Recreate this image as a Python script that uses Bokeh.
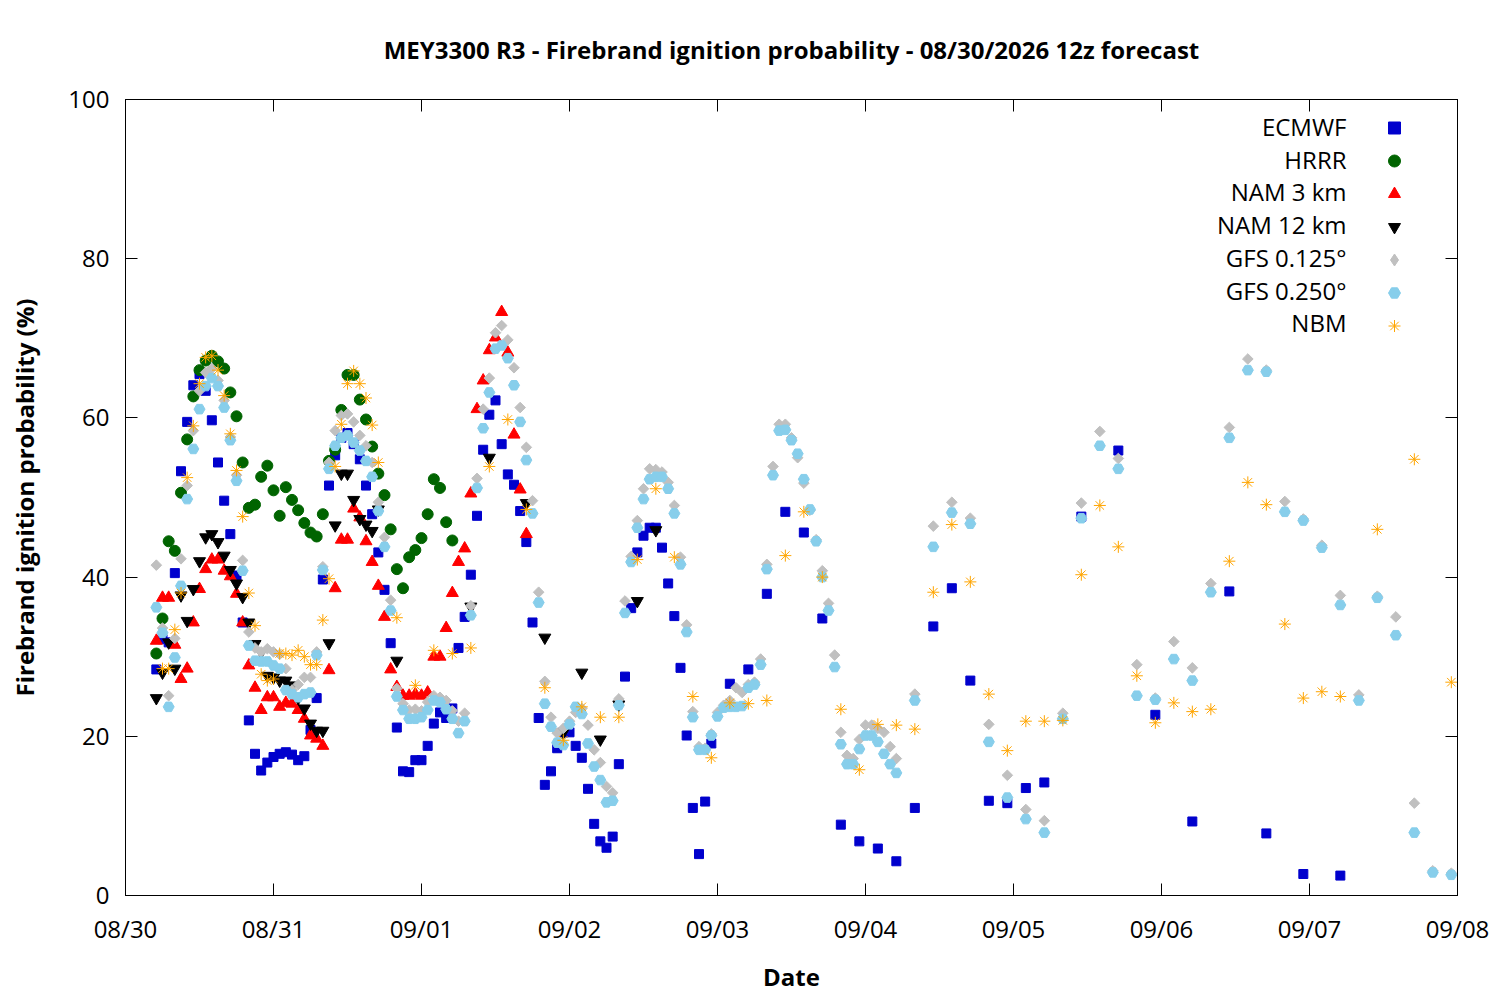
import numpy as np
import pandas as pd
from bokeh.plotting import figure
from bokeh.models import (ColumnDataSource, Range1d, FixedTicker, DatetimeTickFormatter,
                          LinearAxis, DatetimeAxis, CustomJSTickFormatter, Legend, LegendItem, Label)
from bokeh.embed import file_html
from bokeh.resources import INLINE

# ---------------- data (forecast valid times as hours after 08/30 00:00) ----------------
BASE = "2026-08-30 00:00"

ecmwf_hours = list(range(5, 96)) + list(range(98, 150, 3)) + list(range(155, 198, 6))
ecmwf = [28.4, 32.2, 31.8, 40.5, 53.3, 59.5, 64.1, 65.5, 63.4, 59.7,
         54.4, 49.6, 45.4, 40.2, 34.3, 22.0, 17.8, 15.7, 16.7, 17.4,
         17.8, 18.0, 17.7, 17.0, 17.5, 20.8, 24.8, 39.7, 51.5, 55.3,
         57.5, 58.1, 56.7, 54.8, 51.5, 47.9, 43.1, 38.4, 31.7, 21.1,
         15.6, 15.5, 17.0, 17.0, 18.8, 21.6, 23.0, 22.3, 23.5, 31.1,
         35.0, 40.3, 47.7, 56.0, 60.4, 62.2, 56.7, 52.9, 51.6, 48.3,
         44.4, 34.3, 22.3, 13.9, 15.6, 18.5, 20.5, 20.5, 18.8, 17.3,
         13.4, 9.0, 6.8, 6.0, 7.4, 16.5, 27.5, 36.1, 43.1, 45.2,
         46.2, 46.2, 43.7, 39.2, 35.1, 28.6, 20.1, 11.0, 5.2, 11.8,
         19.1,
         26.6, 28.4, 37.9, 48.2, 45.6, 34.8, 8.9, 6.8, 5.9, 4.3,
         11.0, 33.8, 38.6, 27.0, 11.9, 11.6, 13.5, 14.2,
         47.6, 55.9, 22.7, 9.3, 38.2, 7.8, 2.7, 2.5]

hrrr_hours = list(range(5, 54))
hrrr = [30.4, 34.8, 44.5, 43.3, 50.6, 57.3, 62.7, 66.0, 67.2, 67.8,
        67.1, 66.2, 63.2, 60.2, 54.4, 48.7, 49.1, 52.6, 54.0, 50.9,
        47.7, 51.3, 49.7, 48.4, 46.8, 45.6, 45.1, 47.9, 54.6, 56.0,
        61.0, 65.4, 65.4, 62.3, 59.8, 56.4, 53.0, 50.3, 46.0, 41.0,
        38.6, 42.5, 43.4, 44.9, 47.9, 52.3, 51.2, 46.9, 44.6]

nam3_hours = list(range(5, 66))
nam3 = [32.0, 37.4, 37.4, 31.5, 27.2, 28.5, 34.3, 38.5, 41.0, 42.2,
        42.2, 40.8, 40.1, 37.9, 34.3, 28.9, 26.1, 23.3, 24.9, 24.9,
        23.7, 24.2, 24.1, 23.3, 22.2, 20.1, 19.7, 18.8, 28.3, 38.6,
        44.7, 44.7, 48.6, 47.5, 44.5, 41.9, 38.9, 35.0, 28.4, 26.2,
        25.1, 25.1, 25.3, 25.1, 25.5, 30.0, 30.0, 33.6, 38.0, 41.9,
        43.6, 50.5, 61.1, 64.7, 68.5, 70.1, 73.3, 68.2, 57.9, 51.0,
        45.4]

nam12_hours = list(range(5, 42)) + list(range(44, 87, 3))
nam12 = [24.8, 28.0, 31.8, 28.5, 37.7, 34.5, 38.5, 42.0, 45.0, 45.4,
         44.4, 42.7, 40.9, 39.2, 37.5, 34.3, 31.6, 30.6, 27.6, 27.4,
         27.0, 27.0, 26.4, 24.8, 23.5, 21.6, 20.7, 20.7, 31.7, 46.5,
         53.0, 53.0, 49.7, 47.3, 46.6, 45.8, 48.5,
         29.5, None, None, None, 36.3, 55.0, None, 49.3, 32.4, 20.5,
         28.0, 19.6, 24.0, 37.0, 45.9]

gfs_hours = list(range(5, 126)) + list(range(128, 216, 3))
gfs125 = [41.5, 33.6, 25.1, 32.3, 42.3, 51.5, 58.4, 63.4, 65.7, 66.2,
          64.7, 62.2, 57.6, 52.8, 42.1, 33.1, 31.1, 30.6, 31.0, 30.6,
          30.3, 28.5, 25.8, 26.5, 27.4, 27.4, 30.6, 41.3, 54.4, 58.4,
          60.3, 60.5, 59.5, 57.8, 56.5, 54.4, 49.4, 45.0, 37.1, 26.0,
          24.1, 23.3, 23.4, 23.2, 24.3, 25.1, 24.9, 24.5, 23.2, 21.9,
          22.9, 36.4, 52.4, 61.1, 65.0, 70.7, 71.6, 69.8, 66.3, 61.3,
          56.3, 49.6, 38.1, 26.9, 22.4, 20.4, 21.0, 21.9, 23.0, 23.5,
          21.4, 18.3, 16.7, 13.7, 12.9, 24.7, 37.0, 42.6, 47.1, 51.1,
          53.6, 53.5, 53.2, 51.9, 49.0, 42.5, 34.0, 23.1, 18.7, 18.5,
          20.3, 23.0, 23.9, 24.5, 26.1, 25.5, 26.5, 26.8, 29.7, 41.6,
          53.9, 59.2, 59.2, 57.5, 55.0, 51.8, 48.4, 44.7, 40.8, 36.7,
          30.2, 20.5, 17.6, 17.2, 19.6, 21.4, 21.4, 21.0, 20.5, 18.7,
          17.2,
          25.3, 46.4, 49.4, 47.4, 21.5, 15.1, 10.8, 9.4, 22.9, 49.3,
          58.3, 54.9, 29.0, 24.8, 31.9, 28.6, 39.2, 58.8, 67.4, 66.0,
          49.5, 47.3, 44.0, 37.7, 25.2, 37.6, 35.0, 11.6, 3.1, 2.8]
gfs250 = [36.2, 33.0, 23.7, 29.9, 38.9, 49.8, 56.1, 61.1, 64.0, 65.0,
          64.0, 61.3, 57.2, 52.1, 40.8, 31.4, 29.5, 29.4, 29.4, 28.9,
          28.5, 25.8, 25.3, 24.9, 25.3, 25.5, 30.2, 40.9, 53.6, 56.5,
          57.5, 57.8, 56.9, 55.9, 54.6, 52.6, 48.3, 43.8, 35.8, 25.0,
          23.3, 22.2, 22.2, 22.4, 23.3, 24.5, 24.3, 23.4, 22.2, 20.4,
          21.9, 35.2, 51.2, 58.7, 63.2, 68.7, 69.1, 67.5, 64.1, 59.5,
          54.7, 48.0, 36.8, 24.1, 21.2, 19.2, 18.9, 21.5, 23.7, 22.8,
          19.1, 16.2, 14.5, 11.7, 11.9, 23.9, 35.5, 41.9, 46.2, 49.8,
          52.3, 52.6, 52.6, 51.1, 48.0, 41.6, 33.1, 22.4, 18.3, 18.3,
          20.1, 22.5, 23.6, 23.7, 23.7, 23.8, 26.1, 26.5, 29.0, 41.0,
          52.8, 58.4, 58.5, 57.2, 55.5, 52.3, 48.5, 44.5, 40.0, 35.8,
          28.7, 19.0, 16.5, 16.5, 18.4, 20.1, 20.1, 19.3, 17.8, 16.5,
          15.4,
          24.5, 43.8, 48.1, 46.7, 19.3, 12.3, 9.6, 7.9, 22.2, 47.4,
          56.5, 53.6, 25.1, 24.6, 29.7, 27.0, 38.1, 57.5, 66.0, 65.8,
          48.2, 47.1, 43.7, 36.5, 24.5, 37.4, 32.7, 7.9, 2.9, 2.6]

nbm_hours = list(range(6, 42)) + list(range(44, 198, 3)) + [203, 209, 215]
nbm = [28.5, 28.5, 33.4, 38.0, 52.5, 59.0, 64.3, 67.6, 67.8, 66.0,
       62.8, 58.0, 53.4, 47.6, 38.0, 33.9, 27.8, 27.0, 27.2, 30.4,
       30.4, 30.2, 30.8, 30.0, 29.0, 29.0, 34.6, 39.8, 53.9, 59.2,
       64.3, 65.9, 64.3, 62.5, 59.1, 54.4,
       34.9, 26.4, 30.8, 30.4, 31.1, 53.9, 59.8, 48.5, 26.1, 19.5,
       23.7, 22.4, 22.4, 42.2, 51.1, 42.5, 25.0, 17.3, 24.2, 24.1,
       24.5, 42.7, 48.2, 40.0, 23.4, 15.8, 21.5, 21.4, 20.9, 38.1,
       46.6, 39.4, 25.3, 18.2, 21.9, 21.9, 22.0, 40.3, 49.0, 43.8,
       27.6, 21.7, 24.2, 23.1, 23.4, 42.0, 51.9, 49.1, 34.1, 24.8,
       25.6, 25.0,
       46.0, 54.8, 26.8]

x_tick_days = pd.date_range("2026-08-30", "2026-09-08", freq="D")
y_ticks = [0, 20, 40, 60, 80, 100]
series_labels = ["ECMWF", "HRRR", "NAM 3 km", "NAM 12 km", "GFS 0.125°", "GFS 0.250°", "NBM"]

TITLE = "MEY3300 R3 - Firebrand ignition probability - 08/30/2026 12z forecast"
FONT = "Open Sans"
FS = "24px"

# ---------------- figure ----------------
base = pd.Timestamp(BASE)


def src(hours, vals):
    t = base + pd.to_timedelta(hours, unit="h")
    v = np.array([np.nan if a is None else a for a in vals], dtype=float)
    return ColumnDataSource(dict(x=t, y=v))


p = figure(width=1490, height=995, x_axis_type="datetime",
           x_range=Range1d(base, base + pd.Timedelta(days=9)), y_range=Range1d(0, 100),
           output_backend="svg", toolbar_location=None,
           min_border_left=125, min_border_right=33, min_border_top=99, min_border_bottom=100)

p.xgrid.visible = False
p.ygrid.visible = False
p.outline_line_color = "black"
p.outline_line_width = 1
p.background_fill_color = "white"
p.border_fill_color = "white"

tick_ms = [t.value / 1e6 for t in x_tick_days]
xax = p.below[0]
yax = p.left[0]
xax.ticker = FixedTicker(ticks=tick_ms)
fmt = "%m/%d"
xax.formatter = DatetimeTickFormatter(microseconds=fmt, milliseconds=fmt, seconds=fmt, minsec=fmt,
                                      minutes=fmt, hourmin=fmt, hours=fmt, days=fmt, months=fmt, years=fmt)
yax.ticker = FixedTicker(ticks=y_ticks)

for ax in (xax, yax):
    ax.major_tick_in = 12
    ax.major_tick_out = 0
    ax.minor_tick_line_color = None
    ax.axis_line_color = "black"
    ax.major_tick_line_color = "black"
    ax.major_label_text_font = FONT
    ax.major_label_text_font_size = FS
    ax.major_label_text_color = "black"
    ax.axis_label_text_font = FONT
    ax.axis_label_text_font_size = FS
    ax.axis_label_text_font_style = "bold"
    ax.axis_label_text_color = "black"

xax.axis_label = "Date"
yax.axis_label = "Firebrand ignition probability (%)"
xax.major_label_standoff = 16
xax.axis_label_standoff = 12
yax.major_label_standoff = 16
yax.axis_label_standoff = 24

empty = CustomJSTickFormatter(code="return ''")
top = DatetimeAxis(ticker=FixedTicker(ticks=tick_ms), formatter=empty,
                   major_tick_in=12, major_tick_out=0, major_label_standoff=0,
                   major_label_text_font_size="1px", major_label_text_color=None,
                   minor_tick_line_color=None, axis_line_color="black")
right = LinearAxis(ticker=FixedTicker(ticks=y_ticks), formatter=empty,
                   major_tick_in=12, major_tick_out=0, major_label_standoff=0,
                   major_label_text_font_size="1px", major_label_text_color=None,
                   minor_tick_line_color=None, axis_line_color="black")
p.add_layout(top, "above")
p.add_layout(right, "right")

p.title.text = TITLE
p.title.text_font = FONT
p.title.text_font_size = FS
p.title.text_font_style = "bold"
p.title.align = "center"
p.title.vertical_align = "top"
p.title.text_color = "black"
p.title.standoff = 63

# ---------------- series ----------------
s_gfs125 = src(gfs_hours, gfs125)
r1 = p.scatter("x", "y", source=src(ecmwf_hours, ecmwf), marker="square", size=9,
               fill_color="#0000cd", line_color="#0000cd")
r2 = p.scatter("x", "y", source=src(hrrr_hours, hrrr), marker="circle", size=11,
               fill_color="#006400", line_color="#006400")
r3 = p.scatter("x", "y", source=src(nam3_hours, nam3), marker="triangle", size=12,
               fill_color="#ff0000", line_color="#ff0000")
r4 = p.scatter("x", "y", source=src(nam12_hours, nam12), marker="inverted_triangle", size=12,
               fill_color="black", line_color="black")
# diamond key for the legend (legend swatches ignore marker angle); zero-size in the plot
r5_key = p.scatter("x", "y", source=s_gfs125, marker="diamond", size=0,
                   fill_color="#c0c0c0", line_color="#c0c0c0")
r5 = p.scatter("x", "y", source=s_gfs125, marker="square", size=7.5, angle=np.pi / 4,
               fill_color="#c0c0c0", line_color="#c0c0c0")
r6 = p.scatter("x", "y", source=src(gfs_hours, gfs250), marker="hex", size=11,
               fill_color="#87ceeb", line_color="#87ceeb")
r7 = p.scatter("x", "y", source=src(nbm_hours, nbm), marker="asterisk", size=12,
               line_color="#ffa500", line_width=1)

# legend: marker column (labels kept in the Legend but not painted) + right-aligned text
key_renderers = [r1, r2, r3, r4, r5_key, r6, r7]
items = [LegendItem(label=l, renderers=[r]) for l, r in zip(series_labels, key_renderers)]
legend = Legend(items=items, location=(1254, 554), orientation="vertical",
                border_line_color=None, background_fill_alpha=0, padding=0, margin=0,
                spacing=2, glyph_width=30, glyph_height=31, label_height=31,
                label_standoff=0, label_text_font=FONT, label_text_font_size="8px",
                label_text_color=None)
p.add_layout(legend)

for i, lab in enumerate(series_labels):
    p.add_layout(Label(x=1221, y=769 - 32.7 * i, x_units="screen", y_units="screen",
                       text=lab, text_align="right", text_baseline="middle",
                       text_font=FONT, text_font_size=FS, text_color="black"))

open("out.html", "w").write(file_html(p, INLINE))
